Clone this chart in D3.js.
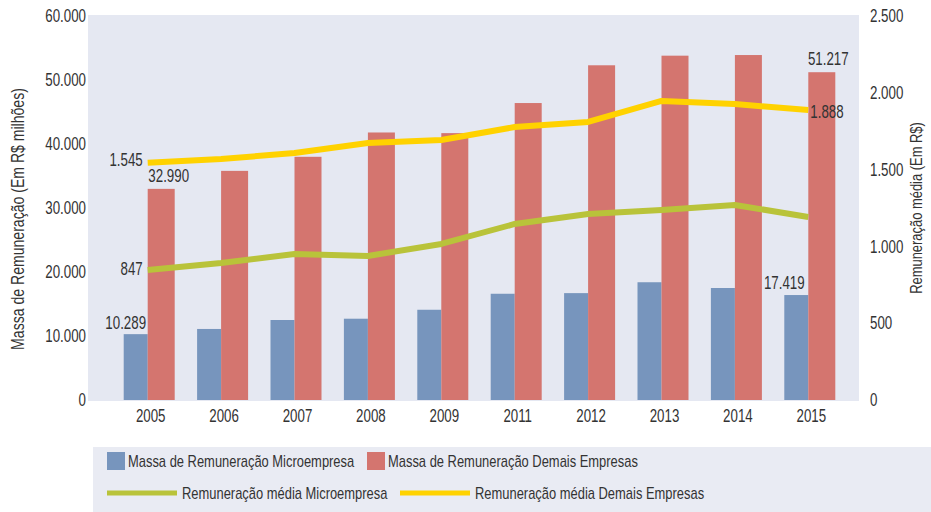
<!DOCTYPE html>
<meta charset="utf-8">
<style>
  html, body { margin: 0; padding: 0; background: #fff; }
  svg text { font-family: "Liberation Sans", Arial, sans-serif; fill: #333; }
</style>
<body>
<script src="https://cdn.jsdelivr.net/npm/d3@7"></script>
<script>

  var width = 931, height = 512;

  // data
  var anos = ["2005", "2006", "2007", "2008", "2009", "2011", "2012", "2013", "2014", "2015"];
  var massaMicro = [10289, 11100, 12500, 12700, 14100, 16600, 16700, 18400, 17500, 16400];
  var massaDemais = [32990, 35800, 38000, 41800, 41700, 46400, 52300, 53800, 53900, 51217];
  var mediaMicro = [847, 892, 950, 938, 1016, 1146, 1211, 1237, 1270, 1191];
  var mediaDemais = [1545, 1569, 1608, 1673, 1693, 1777, 1810, 1947, 1927, 1888];
  var leftTicks = [0, 10000, 20000, 30000, 40000, 50000, 60000];
  var rightTicks = [0, 500, 1000, 1500, 2000, 2500];

  var colors = {
      micro: "#7795bd",
      demais: "#d4756f",
      mediaMicro: "#b9c33a",
      mediaDemais: "#ffd200"
  };

  var fmt = d3.formatLocale({decimal: ",", thousands: ".", grouping: [3]}).format(",");

  var plot = {left: 88, right: 859, top: 15, bottom: 401};

  var svg = d3.select("body").append("svg")
      .attr("width", width)
      .attr("height", height);

  /* background */
  svg.append("rect")
      .attr("x", plot.left).attr("y", plot.top)
      .attr("width", plot.right - plot.left)
      .attr("height", plot.bottom - plot.top)
      .attr("fill", "#e5e8f2");

  var x = d3.scaleBand().domain(anos).range([111, 845]);
  var yL = d3.scaleLinear().domain([0, 60000]).range([400, 16]);
  var yR = d3.scaleLinear().domain([0, 2500]).range([400, 16]);
  var cx = d => x(d) + x.bandwidth() / 2;

  /* axes */
  var axL = svg.append("g")
      .attr("transform", "translate(86,0)")
      .call(d3.axisLeft(yL).tickValues(leftTicks).tickFormat(fmt).tickSize(0).tickPadding(0));
  var axR = svg.append("g")
      .attr("transform", "translate(870,0)")
      .call(d3.axisRight(yR).tickValues(rightTicks).tickFormat(fmt).tickSize(0).tickPadding(0));
  var axB = svg.append("g")
      .attr("transform", "translate(3,409)")
      .call(d3.axisBottom(x).tickSize(0).tickPadding(0));
  [axL, axR, axB].forEach(function(a) {
      a.select(".domain").remove();
      a.selectAll("text").style("font-size", "17.5px").attr("fill", "#333")
	  .style("font-family", "'Liberation Sans', Arial, sans-serif");
  });
  axB.selectAll("text").attr("dy", "0.75em");

  svg.append("text")
      .attr("transform", "translate(24,219) rotate(-90)")
      .attr("text-anchor", "middle")
      .style("font-size", "18.5px")
      .text("Massa de Remuneração (Em R$ milhões)");
  svg.append("text")
      .attr("transform", "translate(922,208) rotate(-90)")
      .attr("text-anchor", "middle")
      .style("font-size", "17px")
      .text("Remuneração média (Em R$)");

  /* bars */
  svg.selectAll(".bm").data(anos).enter().append("rect")
      .attr("x", d => cx(d) - 24)
      .attr("width", 24)
      .attr("y", (d, i) => yL(massaMicro[i]))
      .attr("height", (d, i) => yL(0) - yL(massaMicro[i]))
      .attr("fill", colors.micro);
  svg.selectAll(".bd").data(anos).enter().append("rect")
      .attr("x", d => cx(d))
      .attr("width", 27)
      .attr("y", (d, i) => yL(massaDemais[i]))
      .attr("height", (d, i) => yL(0) - yL(massaDemais[i]))
      .attr("fill", colors.demais);

  /* lines */
  function drawLine(vals, col) {
      svg.append("path")
	  .datum(vals)
	  .attr("fill", "none")
	  .attr("stroke", col)
	  .attr("stroke-width", 6)
	  .attr("stroke-linejoin", "round")
	  .attr("d", d3.line().x((d, i) => cx(anos[i])).y(d => yR(d)));
  }
  drawLine(mediaMicro, colors.mediaMicro);
  drawLine(mediaDemais, colors.mediaDemais);

  /* data labels */
  var last = anos.length - 1;
  function label(tx, ty, txt, anchor) {
      svg.append("text")
	  .attr("x", tx).attr("y", ty)
	  .attr("dy", "0.35em")
	  .attr("text-anchor", anchor)
	  .style("font-size", "17.5px")
	  .text(txt);
  }
  label(cx(anos[0]) - 5, yR(mediaDemais[0]) - 3, fmt(mediaDemais[0]), "end");
  label(cx(anos[0]) - 5, yR(mediaMicro[0]) - 1, fmt(mediaMicro[0]), "end");
  label(cx(anos[0]) + 21, yL(massaDemais[0]) - 13, fmt(massaDemais[0]), "middle");
  label(cx(anos[0]) - 22, yL(massaMicro[0]) - 11, fmt(massaMicro[0]), "middle");
  label(cx(anos[last]) + 20, yL(massaDemais[last]) - 13, fmt(massaDemais[last]), "middle");
  label(cx(anos[last]) + 2, yR(mediaDemais[last]) + 2, fmt(mediaDemais[last]), "start");
  label(cx(anos[last]) - 24, yL(massaMicro[last]) - 12, "17.419", "middle");

  /* legend */
  svg.append("rect")
      .attr("x", 93).attr("y", 447)
      .attr("width", width - 93).attr("height", height - 447)
      .attr("fill", "#e9ebf3");

  var legendItems = [
      {name: "Massa de Remuneração Microempresa", color: colors.micro, type: "box", x: 107, y: 461},
      {name: "Massa de Remuneração Demais Empresas", color: colors.demais, type: "box", x: 367, y: 461},
      {name: "Remuneração média Microempresa", color: colors.mediaMicro, type: "line", x: 107, y: 493},
      {name: "Remuneração média Demais Empresas", color: colors.mediaDemais, type: "line", x: 400, y: 493}
  ];
  legendItems.forEach(function(it) {
      if (it.type == "box") {
	  svg.append("rect")
	      .attr("x", it.x).attr("y", it.y - 9)
	      .attr("width", 18).attr("height", 18)
	      .attr("fill", it.color);
      } else {
	  svg.append("line")
	      .attr("x1", it.x).attr("x2", it.x + 70)
	      .attr("y1", it.y).attr("y2", it.y)
	      .attr("stroke", it.color)
	      .attr("stroke-width", 5);
      }
      svg.append("text")
	  .attr("x", it.x + (it.type == "box" ? 21 : 75))
	  .attr("y", it.y)
	  .attr("dy", "0.35em")
	  .style("font-size", "17px")
	  .text(it.name);
  });

  /* narrow the font, like the original condensed face */
  svg.selectAll("text").each(function() {
      var len = this.getComputedTextLength();
      this.setAttribute("textLength", (len * 0.76).toFixed(1));
      this.setAttribute("lengthAdjust", "spacingAndGlyphs");
  });

</script>
</body>
